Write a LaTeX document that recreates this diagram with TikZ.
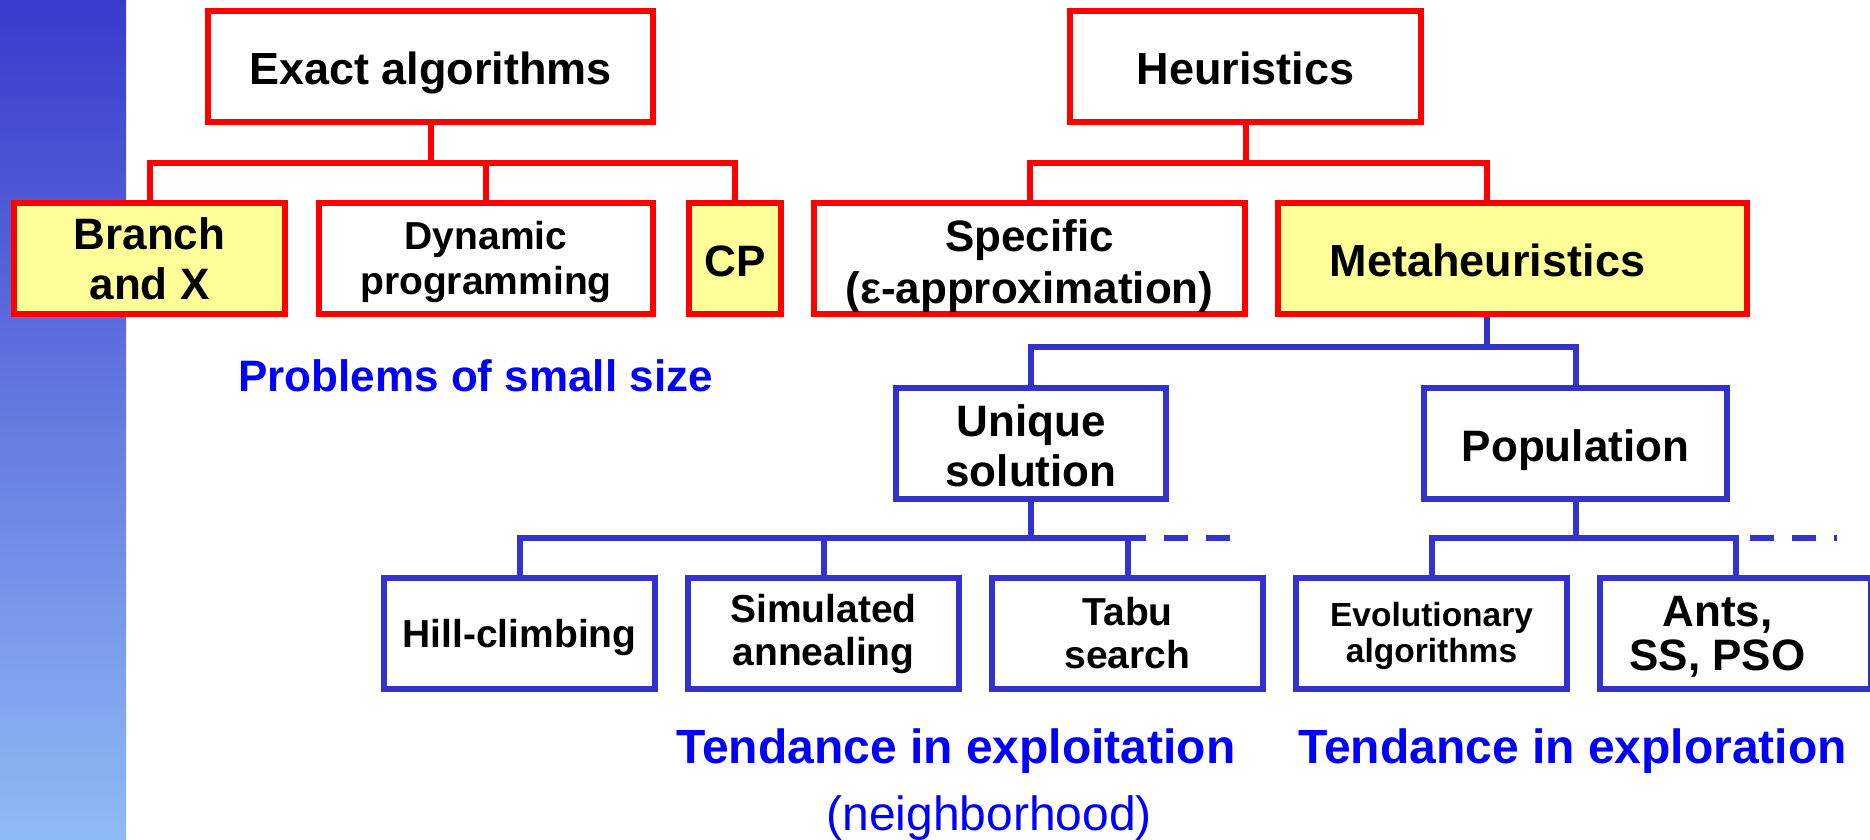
\documentclass[tikz,border=0pt]{standalone}
\usepackage{fontspec}
\setmainfont{Liberation Sans}
\usetikzlibrary{calc}
\definecolor{boxred}{HTML}{FF0000}
\definecolor{boxyellow}{HTML}{FFFF99}
\definecolor{treeblue}{HTML}{3333CC}
\definecolor{labelblue}{HTML}{0000FF}
\definecolor{bartop}{HTML}{3A3ACC}
\definecolor{barbottom}{HTML}{8FBBF5}

\begin{document}
\begin{tikzpicture}[x=0.5pt,y=-0.5pt,
  treebox/.style={draw, rectangle, line width=3pt, inner sep=0pt,
    minimum height=55.5pt, align=center, fill=white, text=black,
    font=\bfseries\fontsize{22}{25}\selectfont},
  bigtext/.style={font=\bfseries\fontsize{22.5}{25}\selectfont},
  oneline/.style={text height=#1, text depth=0pt},
  redbox/.style={treebox, draw=boxred},
  hibox/.style={redbox, fill=boxyellow},
  bluebox/.style={treebox, draw=treeblue},
  leafbox/.style={bluebox, minimum width=135.5pt},
  midtext/.style={font=\bfseries\fontsize{19.5}{21.5}\selectfont},
  redline/.style={draw=boxred, line width=3pt},
  blueline/.style={draw=treeblue, line width=3pt},
  dashline/.style={blueline, dash pattern=on 12pt off 9pt},
  note/.style={text=labelblue, inner sep=0pt, anchor=base west,
    font=\bfseries\fontsize{24}{26}\selectfont},
]
\useasboundingbox (0,0) rectangle (1870,840);
\fill[white] (0,0) rectangle (1870,840);
% side band
\shade[top color=bartop, bottom color=barbottom] (0,0) rectangle (126,840);

% level 1
\node[redbox, bigtext, oneline=18pt, minimum width=222.5pt] (exact) at (430.5,66.5) {Exact algorithms};
\node[redbox, bigtext, oneline=18pt, minimum width=175.5pt] (heur)  at (1245.5,66.5) {Heuristics};

% level 2
\node[hibox, minimum width=135.5pt] (bx) at (149.5,258.5) {Branch\\and X};
\node[redbox, minimum width=167pt, font=\bfseries\fontsize{19.5}{22.5}\selectfont] (dp) at (486,258.5)
  {\rule{0pt}{17.5pt}Dynamic\\programming};
\node[hibox, oneline=18pt, minimum width=46pt] (cp) at (735,258.5) {CP};
\node[redbox, minimum width=215.5pt, font=\bfseries\fontsize{22}{26}\selectfont] (spec) at (1029.5,258.5)
  {\rule{0pt}{23.5pt}Specific\\(ε-approximation)};
\node[hibox, bigtext, oneline=18pt, minimum width=234.5pt] (meta) at (1512.5,258.5)
  {Metaheuristics\hspace*{25pt}};

% level 3
\node[bluebox, minimum width=135pt] (uniq) at (1031,443.5) {\rule{0pt}{18pt}Unique\\solution};
\node[bluebox, oneline=18pt, minimum width=151.5pt] (pop) at (1575.5,443.5) {Population};

% level 4
\node[leafbox, midtext, oneline=13.6pt] (hill) at (519.5,633.5) {Hill-climbing};
\node[leafbox, midtext] (sa)   at (823.5,633.5) {Simulated\\annealing};
\node[leafbox, midtext] (tabu) at (1127.5,633.5) {Tabu\\search};
\node[leafbox, font=\bfseries\fontsize{16.75}{18}\selectfont] (evo) at (1431.5,633.5)
  {\rule{0pt}{14.5pt}Evolutionary\\algorithms};
\node[leafbox, font=\bfseries\fontsize{22}{22}\selectfont] (ants) at (1735.5,633.5)
  {\rule{0pt}{18.5pt}Ants,\hspace*{18pt}\\SS, PSO\hspace*{18pt}};

% bus levels
\coordinate (rbus) at (0,163);
\coordinate (bbusA) at (0,347);
\coordinate (bbusB) at (0,538);
\coordinate (mtap) at ($(meta.north)+(-25.5,0)$);
\coordinate (mdrop) at ($(meta.south)+(-25.5,0)$);

% red tree
\draw[redline] (exact.south) -- (exact.south |- rbus);
\draw[redline] (bx.north) |- (cp.north |- rbus) -- (cp.north);
\draw[redline] (dp.north) -- (dp.north |- rbus);
\draw[redline] (heur.south) -- (heur.south |- rbus);
\draw[redline] (spec.north) |- (mtap |- rbus) -- (mtap);

% blue tree
\draw[blueline] (mdrop) -- (mdrop |- bbusA);
\draw[blueline] (uniq.north) |- (pop.north |- bbusA) -- (pop.north);
\draw[blueline] (uniq.south) -- (uniq.south |- bbusB);
\draw[blueline] (hill.north) |- (tabu.north |- bbusB) -- (tabu.north);
\draw[blueline] (sa.north) -- (sa.north |- bbusB);
\draw[blueline] (pop.south) -- (pop.south |- bbusB);
\draw[blueline] (evo.north) |- (ants.north |- bbusB) -- (ants.north);

% open-ended continuations
\coordinate (uniqmore) at ($(tabu.north |- bbusB)+(-6,0)$);
\coordinate (uniqend) at ($(uniqmore)+(108,0)$);
\coordinate (popmore) at ($(ants.north |- bbusB)+(14.5,0)$);
\coordinate (popend) at ($(popmore)+(87,0)$);
\draw[dashline] (uniqmore) -- (uniqend);
\draw[dashline] (popmore) -- (popend);

% annotations
\node[note, font=\bfseries\fontsize{22}{24}\selectfont] (small) at (238,391) {Problems of small size};
\node[note] (exploit) at (676,763) {Tendance in exploitation};
\node[note] (explore) at (1298,763) {Tendance in exploration};
\node[note, font=\fontsize{24}{26}\selectfont] (neigh) at (826,830) {(neighborhood)};
\end{tikzpicture}
\end{document}
